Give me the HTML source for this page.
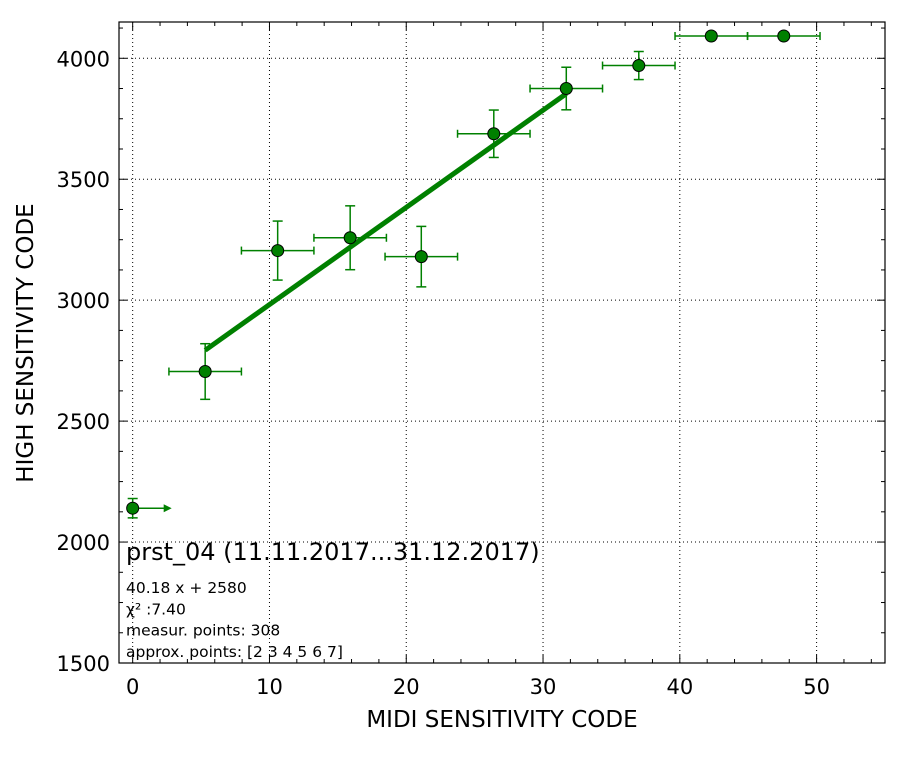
<!DOCTYPE html>
<html><head><meta charset="utf-8"><style>
body{margin:0;background:#fff;}
svg{display:block;font-family:"DejaVu Sans","Liberation Sans",sans-serif;}
</style></head><body>
<svg id="chart" width="912" height="762" viewBox="0 0 912 762"></svg>
<script>
const xVals=[0,5.3,10.6,15.9,21.1,26.4,31.7,37,42.3,47.6];
const yVals=[2140,2705,3205,3258,3180,3688,3875,3970,4092,4092];
const xErr=[0,2.65,2.65,2.65,2.65,2.65,2.65,2.65,2.65,2.65];
const yErr=[40,115,122,132,125,98,88,58,0,0];
const fitSlope=40.18, fitIntercept=2580, fitRange=[5.3,31.7];
const xTicks=[0,10,20,30,40,50];
const yTicks=[1500,2000,2500,3000,3500,4000];
const infoLines=["40.18 x + 2580","χ² :7.40","measur. points: 308","approx. points: [2 3 4 5 6 7]"];

const L=119,R=885,T=22,B=663,XMIN=-1,XMAX=55,YMIN=1500,YMAX=4150;
const sx=v=>L+(v-XMIN)/(XMAX-XMIN)*(R-L);
const sy=v=>B-(v-YMIN)/(YMAX-YMIN)*(B-T);
const svg=document.getElementById('chart');
const NS='http://www.w3.org/2000/svg';
function mk(tag,at,parent){const e=document.createElementNS(NS,tag);for(const k in at)e.setAttribute(k,at[k]);(parent||svg).appendChild(e);return e;}

xTicks.forEach(t=>{const l=mk('line',{x1:sx(t),x2:sx(t),y1:T,y2:B,stroke:'#000','stroke-dasharray':'1,3','stroke-width':1});

});
yTicks.forEach(t=>{const l=mk('line',{x1:L,x2:R,y1:sy(t),y2:sy(t),stroke:'#000','stroke-dasharray':'1,3','stroke-width':1});

});
for(let v=0;v<=54;v+=2){const x=sx(v);const maj=v%10===0;const s=maj?8:4;
mk('line',{x1:x,x2:x,y1:B,y2:B-s,stroke:'#000'});mk('line',{x1:x,x2:x,y1:T,y2:T+s,stroke:'#000'});}
for(let v=1500;v<=4125;v+=125){const y=sy(v);const maj=v%500===0;const s=maj?8:4;
mk('line',{x1:L,x2:L+s,y1:y,y2:y,stroke:'#000'});mk('line',{x1:R,x2:R-s,y1:y,y2:y,stroke:'#000'});}
xTicks.forEach(t=>{const e=mk('text',{x:sx(t),y:B+31,'text-anchor':'middle','font-size':21});e.textContent=t;

});
yTicks.forEach(t=>{const e=mk('text',{x:L-9,y:sy(t)+8,'text-anchor':'end','font-size':21});e.textContent=t;

});
let e=mk('text',{x:502,y:727,'text-anchor':'middle','font-size':23});e.textContent='MIDI SENSITIVITY CODE';


e=mk('text',{x:33,y:343,'text-anchor':'middle','font-size':23,transform:'rotate(-90 33 343)'});e.textContent='HIGH SENSITIVITY CODE';


const fl=mk('line',{x1:sx(fitRange[0]),y1:sy(fitSlope*fitRange[0]+fitIntercept),x2:sx(fitRange[1]),y2:sy(fitSlope*fitRange[1]+fitIntercept),stroke:'#008000','stroke-width':5});


const G='#008000';
xVals.forEach((xv,i)=>{
 const g=mk('g',{});
 
 
 const cx=sx(xv),cy=sy(yVals[i]);
 if(xErr[i]>0){const a=sx(xv-xErr[i]),b=sx(xv+xErr[i]);
  mk('line',{x1:a,x2:b,y1:cy,y2:cy,stroke:G,'stroke-width':1.5},g);
  mk('line',{x1:a,x2:a,y1:cy-4,y2:cy+4,stroke:G,'stroke-width':1.5},g);
  mk('line',{x1:b,x2:b,y1:cy-4,y2:cy+4,stroke:G,'stroke-width':1.5},g);}
 else{mk('line',{x1:cx,x2:cx+32,y1:cy,y2:cy,stroke:G,'stroke-width':1.5},g);
  mk('polygon',{points:`${cx+39},${cy} ${cx+31},${cy-4} ${cx+31},${cy+4}`,fill:G},g);}
 if(yErr[i]>0){const a=sy(yVals[i]-yErr[i]),b=sy(yVals[i]+yErr[i]);
  mk('line',{x1:cx,x2:cx,y1:a,y2:b,stroke:G,'stroke-width':1.5},g);
  mk('line',{x1:cx-5,x2:cx+5,y1:a,y2:a,stroke:G,'stroke-width':1.5},g);
  mk('line',{x1:cx-5,x2:cx+5,y1:b,y2:b,stroke:G,'stroke-width':1.5},g);}
 mk('circle',{cx:cx,cy:cy,r:6,fill:G,stroke:'#000','stroke-width':1},g);
});
const fr=mk('rect',{x:L,y:T,width:R-L,height:B-T,fill:'none',stroke:'#000','stroke-width':1.2});


e=mk('text',{x:126,y:560,'font-size':24});e.textContent='prst_04 (11.11.2017...31.12.2017)';


infoLines.forEach((s,i)=>{const t=mk('text',{x:126,y:593+i*21.3,'font-size':15.5});t.textContent=s;

});
</script>
</body></html>
